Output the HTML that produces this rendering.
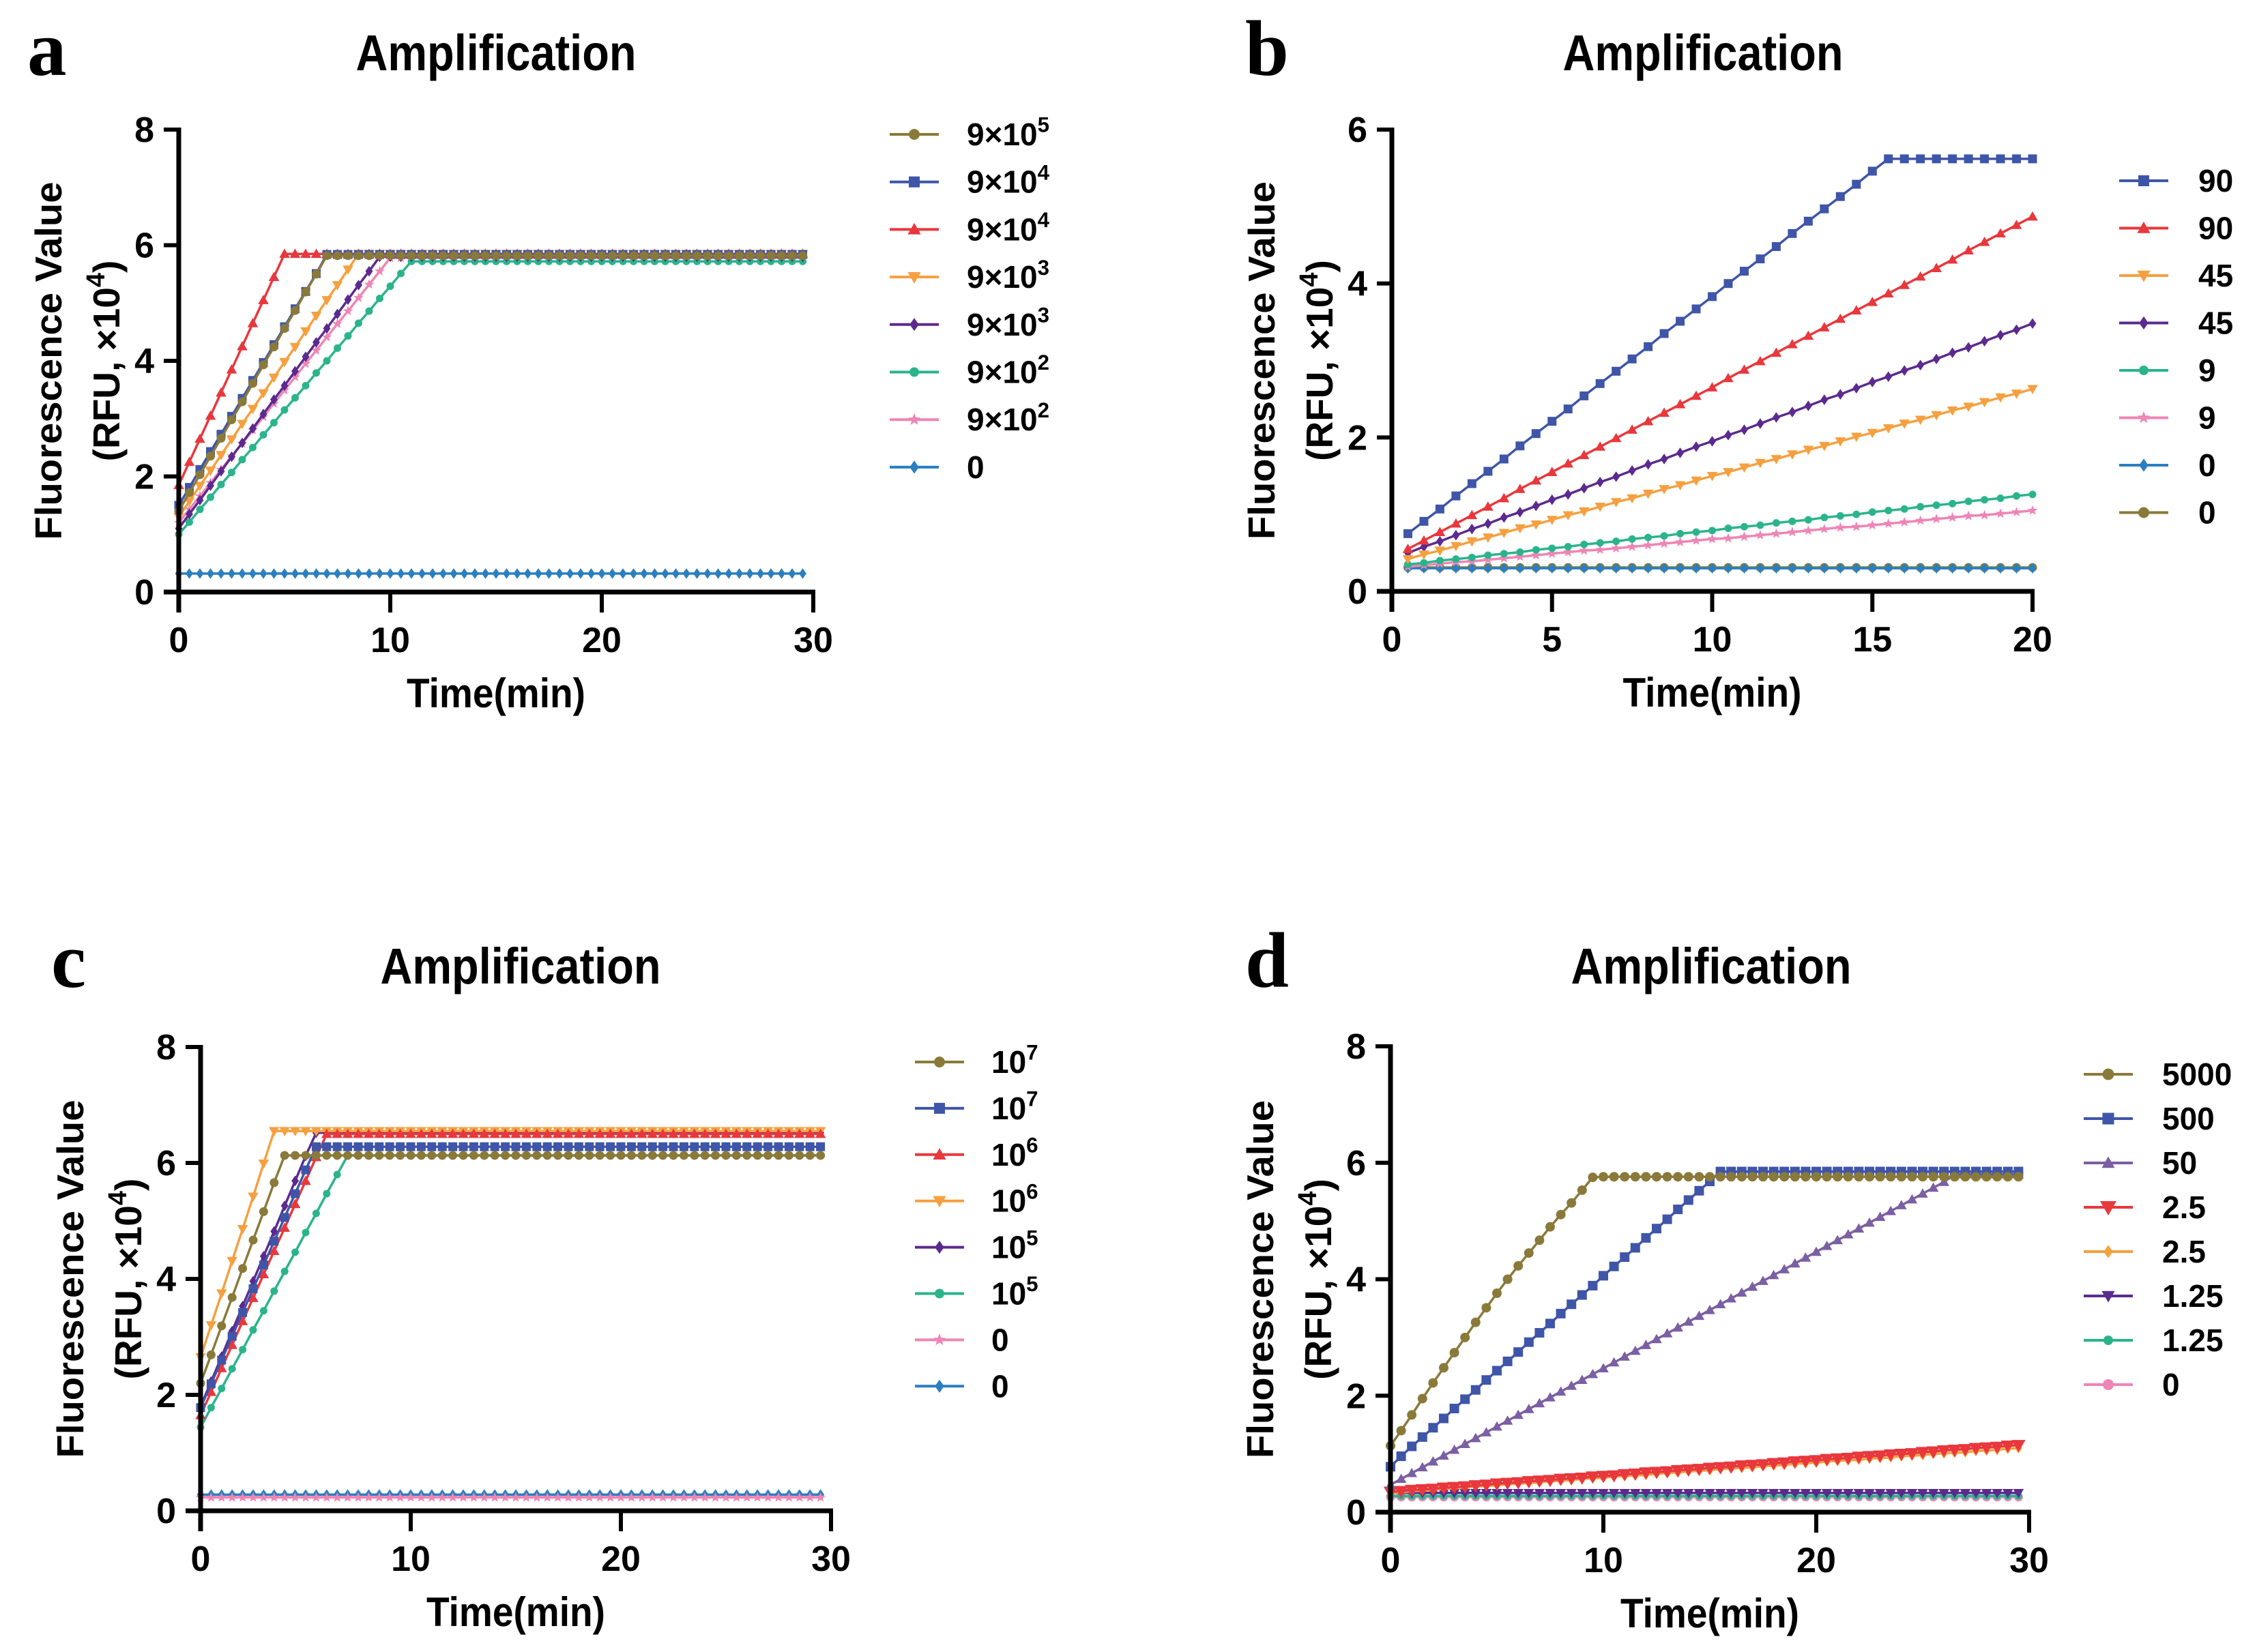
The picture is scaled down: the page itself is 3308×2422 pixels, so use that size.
<!DOCTYPE html>
<html><head><meta charset="utf-8"><style>
html,body{margin:0;padding:0;background:#fff;}
svg{display:block;}
text{font-family:"Liberation Sans",Arial,sans-serif;font-weight:bold;fill:#000;}
.n{font-family:"Liberation Sans Narrow","Liberation Sans",sans-serif;}
.s{font-family:"Liberation Serif",serif;}
</style></head><body>
<svg id="fig" width="3308" height="2422" viewBox="0 0 3308 2422" xmlns="http://www.w3.org/2000/svg">
<rect width="3308" height="2422" fill="#fff"/>
</svg>
<script>
// ---------- shared time categories ----------
const tA = [0,0.5,1,1.5,2,2.5,3,3.5,4,4.5,5,5.5,6,6.5,7,7.5,8,8.5,9,9.5,10,10.5,11,11.5,12,12.5,13,13.5,14,14.5,15,15.5,16,16.5,17,17.5,18,18.5,19,19.5,20,20.5,21,21.5,22,22.5,23,23.5,24,24.5,25,25.5,26,26.5,27,27.5,28,28.5,29,29.5];
const tB = [0.5,1,1.5,2,2.5,3,3.5,4,4.5,5,5.5,6,6.5,7,7.5,8,8.5,9,9.5,10,10.5,11,11.5,12,12.5,13,13.5,14,14.5,15,15.5,16,16.5,17,17.5,18,18.5,19,19.5,20];

// ---------- panel a values ----------
const aLabels = ["9×10|5","9×10|4","9×10|4","9×10|3","9×10|3","9×10|2","9×10|2","0"];
const a1 = [1.40,1.72,2.03,2.35,2.66,2.98,3.29,3.61,3.93,4.24,4.56,4.87,5.19,5.50,5.82,5.82,5.82,5.82,5.82,5.82,5.82,5.82,5.82,5.82,5.82,5.82,5.82,5.82,5.82,5.82,5.82,5.82,5.82,5.82,5.82,5.82,5.82,5.82,5.82,5.82,5.82,5.82,5.82,5.82,5.82,5.82,5.82,5.82,5.82,5.82,5.82,5.82,5.82,5.82,5.82,5.82,5.82,5.82,5.82,5.82];
const a2 = [1.50,1.81,2.12,2.43,2.73,3.04,3.35,3.66,3.97,4.28,4.59,4.90,5.20,5.51,5.84,5.84,5.84,5.84,5.84,5.84,5.84,5.84,5.84,5.84,5.84,5.84,5.84,5.84,5.84,5.84,5.84,5.84,5.84,5.84,5.84,5.84,5.84,5.84,5.84,5.84,5.84,5.84,5.84,5.84,5.84,5.84,5.84,5.84,5.84,5.84,5.84,5.84,5.84,5.84,5.84,5.84,5.84,5.84,5.84,5.84];
const a3 = [1.85,2.25,2.65,3.05,3.45,3.85,4.25,4.65,5.05,5.45,5.85,5.85,5.85,5.85,5.85,5.85,5.85,5.85,5.85,5.85,5.85,5.85,5.85,5.85,5.85,5.85,5.85,5.85,5.85,5.85,5.85,5.85,5.85,5.85,5.85,5.85,5.85,5.85,5.85,5.85,5.85,5.85,5.85,5.85,5.85,5.85,5.85,5.85,5.85,5.85,5.85,5.85,5.85,5.85,5.85,5.85,5.85,5.85,5.85,5.85];
const a4 = [1.30,1.57,1.84,2.10,2.37,2.64,2.91,3.17,3.44,3.71,3.98,4.24,4.51,4.78,5.05,5.31,5.58,5.85,5.85,5.85,5.85,5.85,5.85,5.85,5.85,5.85,5.85,5.85,5.85,5.85,5.85,5.85,5.85,5.85,5.85,5.85,5.85,5.85,5.85,5.85,5.85,5.85,5.85,5.85,5.85,5.85,5.85,5.85,5.85,5.85,5.85,5.85,5.85,5.85,5.85,5.85,5.85,5.85,5.85,5.85];
const a5 = [1.10,1.35,1.59,1.84,2.09,2.34,2.58,2.83,3.08,3.33,3.57,3.82,4.07,4.32,4.56,4.81,5.06,5.31,5.55,5.80,5.80,5.80,5.80,5.80,5.80,5.80,5.80,5.80,5.80,5.80,5.80,5.80,5.80,5.80,5.80,5.80,5.80,5.80,5.80,5.80,5.80,5.80,5.80,5.80,5.80,5.80,5.80,5.80,5.80,5.80,5.80,5.80,5.80,5.80,5.80,5.80,5.80,5.80,5.80,5.80];
const a6 = [1.00,1.21,1.43,1.64,1.86,2.07,2.29,2.50,2.72,2.93,3.15,3.36,3.57,3.79,4.00,4.22,4.43,4.65,4.86,5.08,5.29,5.51,5.72,5.72,5.72,5.72,5.72,5.72,5.72,5.72,5.72,5.72,5.72,5.72,5.72,5.72,5.72,5.72,5.72,5.72,5.72,5.72,5.72,5.72,5.72,5.72,5.72,5.72,5.72,5.72,5.72,5.72,5.72,5.72,5.72,5.72,5.72,5.72,5.72,5.72];
const a7 = [1.20,1.43,1.66,1.89,2.12,2.35,2.57,2.80,3.03,3.26,3.49,3.72,3.95,4.18,4.41,4.64,4.86,5.09,5.32,5.55,5.78,5.78,5.78,5.78,5.78,5.78,5.78,5.78,5.78,5.78,5.78,5.78,5.78,5.78,5.78,5.78,5.78,5.78,5.78,5.78,5.78,5.78,5.78,5.78,5.78,5.78,5.78,5.78,5.78,5.78,5.78,5.78,5.78,5.78,5.78,5.78,5.78,5.78,5.78,5.78];
const a8 = [0.32,0.32,0.32,0.32,0.32,0.32,0.32,0.32,0.32,0.32,0.32,0.32,0.32,0.32,0.32,0.32,0.32,0.32,0.32,0.32,0.32,0.32,0.32,0.32,0.32,0.32,0.32,0.32,0.32,0.32,0.32,0.32,0.32,0.32,0.32,0.32,0.32,0.32,0.32,0.32,0.32,0.32,0.32,0.32,0.32,0.32,0.32,0.32,0.32,0.32,0.32,0.32,0.32,0.32,0.32,0.32,0.32,0.32,0.32,0.32];
const aYTicks = [0,2,4,6,8];
const aXTicks = [0,10,20,30];

// ---------- panel b values ----------
const bLabels = ["90","90","45","45","9","9","0","0"];
const b1 = [0.75,0.91,1.07,1.24,1.40,1.56,1.72,1.89,2.05,2.21,2.37,2.54,2.70,2.86,3.02,3.18,3.35,3.51,3.67,3.83,4.00,4.16,4.32,4.48,4.65,4.81,4.97,5.13,5.29,5.46,5.62,5.62,5.62,5.62,5.62,5.62,5.62,5.62,5.62,5.62];
const b2 = [0.55,0.66,0.77,0.88,0.99,1.10,1.21,1.33,1.44,1.55,1.66,1.77,1.88,1.99,2.10,2.21,2.32,2.43,2.54,2.65,2.77,2.88,2.99,3.10,3.21,3.32,3.43,3.54,3.65,3.76,3.87,3.98,4.09,4.20,4.31,4.43,4.54,4.65,4.76,4.87];
const b3 = [0.42,0.48,0.53,0.59,0.65,0.70,0.76,0.82,0.87,0.93,0.99,1.04,1.10,1.16,1.21,1.27,1.33,1.38,1.44,1.50,1.55,1.61,1.67,1.72,1.78,1.84,1.89,1.95,2.01,2.06,2.12,2.18,2.23,2.29,2.35,2.40,2.46,2.52,2.57,2.63];
const b4 = [0.50,0.58,0.65,0.73,0.81,0.88,0.96,1.03,1.11,1.19,1.26,1.34,1.42,1.49,1.57,1.65,1.72,1.80,1.88,1.95,2.03,2.10,2.18,2.26,2.33,2.41,2.49,2.56,2.64,2.72,2.79,2.87,2.94,3.02,3.10,3.17,3.25,3.33,3.40,3.48];
const b5 = [0.35,0.37,0.40,0.42,0.44,0.47,0.49,0.51,0.54,0.56,0.58,0.61,0.63,0.65,0.68,0.70,0.72,0.75,0.77,0.79,0.82,0.84,0.86,0.89,0.91,0.93,0.96,0.98,1.00,1.03,1.05,1.07,1.10,1.12,1.14,1.17,1.19,1.21,1.24,1.26];
const b6 = [0.32,0.34,0.36,0.38,0.39,0.41,0.43,0.45,0.47,0.49,0.51,0.53,0.54,0.56,0.58,0.60,0.62,0.64,0.66,0.68,0.69,0.71,0.73,0.75,0.77,0.79,0.81,0.83,0.84,0.86,0.88,0.90,0.92,0.94,0.96,0.98,0.99,1.01,1.03,1.05];
const b7 = [0.30,0.30,0.30,0.30,0.30,0.30,0.30,0.30,0.30,0.30,0.30,0.30,0.30,0.30,0.30,0.30,0.30,0.30,0.30,0.30,0.30,0.30,0.30,0.30,0.30,0.30,0.30,0.30,0.30,0.30,0.30,0.30,0.30,0.30,0.30,0.30,0.30,0.30,0.30,0.30];
const b8 = [0.31,0.31,0.31,0.31,0.31,0.31,0.31,0.31,0.31,0.31,0.31,0.31,0.31,0.31,0.31,0.31,0.31,0.31,0.31,0.31,0.31,0.31,0.31,0.31,0.31,0.31,0.31,0.31,0.31,0.31,0.31,0.31,0.31,0.31,0.31,0.31,0.31,0.31,0.31,0.31];
const bYTicks = [0,2,4,6];
const bXTicks = [0,5,10,15,20];

// ---------- panel c values ----------
const cLabels = ["10|7","10|7","10|6","10|6","10|5","10|5","0","0"];
const c1 = [2.20,2.69,3.19,3.68,4.18,4.67,5.16,5.66,6.13,6.13,6.13,6.13,6.13,6.13,6.13,6.13,6.13,6.13,6.13,6.13,6.13,6.13,6.13,6.13,6.13,6.13,6.13,6.13,6.13,6.13,6.13,6.13,6.13,6.13,6.13,6.13,6.13,6.13,6.13,6.13,6.13,6.13,6.13,6.13,6.13,6.13,6.13,6.13,6.13,6.13,6.13,6.13,6.13,6.13,6.13,6.13,6.13,6.13,6.13,6.13];
const c2 = [1.78,2.19,2.60,3.01,3.42,3.83,4.24,4.65,5.06,5.47,5.88,6.28,6.28,6.28,6.28,6.28,6.28,6.28,6.28,6.28,6.28,6.28,6.28,6.28,6.28,6.28,6.28,6.28,6.28,6.28,6.28,6.28,6.28,6.28,6.28,6.28,6.28,6.28,6.28,6.28,6.28,6.28,6.28,6.28,6.28,6.28,6.28,6.28,6.28,6.28,6.28,6.28,6.28,6.28,6.28,6.28,6.28,6.28,6.28,6.28];
const c3 = [1.65,2.05,2.46,2.86,3.27,3.67,4.08,4.48,4.88,5.29,5.69,6.10,6.50,6.50,6.50,6.50,6.50,6.50,6.50,6.50,6.50,6.50,6.50,6.50,6.50,6.50,6.50,6.50,6.50,6.50,6.50,6.50,6.50,6.50,6.50,6.50,6.50,6.50,6.50,6.50,6.50,6.50,6.50,6.50,6.50,6.50,6.50,6.50,6.50,6.50,6.50,6.50,6.50,6.50,6.50,6.50,6.50,6.50,6.50,6.50];
const c4 = [2.65,3.20,3.75,4.31,4.86,5.42,5.99,6.55,6.55,6.55,6.55,6.55,6.55,6.55,6.55,6.55,6.55,6.55,6.55,6.55,6.55,6.55,6.55,6.55,6.55,6.55,6.55,6.55,6.55,6.55,6.55,6.55,6.55,6.55,6.55,6.55,6.55,6.55,6.55,6.55,6.55,6.55,6.55,6.55,6.55,6.55,6.55,6.55,6.55,6.55,6.55,6.55,6.55,6.55,6.55,6.55,6.55,6.55,6.55,6.55];
const c5 = [1.80,2.23,2.66,3.10,3.53,3.96,4.39,4.82,5.26,5.69,6.12,6.52,6.52,6.52,6.52,6.52,6.52,6.52,6.52,6.52,6.52,6.52,6.52,6.52,6.52,6.52,6.52,6.52,6.52,6.52,6.52,6.52,6.52,6.52,6.52,6.52,6.52,6.52,6.52,6.52,6.52,6.52,6.52,6.52,6.52,6.52,6.52,6.52,6.52,6.52,6.52,6.52,6.52,6.52,6.52,6.52,6.52,6.52,6.52,6.52];
const c6 = [1.44,1.78,2.11,2.45,2.78,3.12,3.45,3.79,4.13,4.46,4.80,5.13,5.47,5.80,6.13,6.13,6.13,6.13,6.13,6.13,6.13,6.13,6.13,6.13,6.13,6.13,6.13,6.13,6.13,6.13,6.13,6.13,6.13,6.13,6.13,6.13,6.13,6.13,6.13,6.13,6.13,6.13,6.13,6.13,6.13,6.13,6.13,6.13,6.13,6.13,6.13,6.13,6.13,6.13,6.13,6.13,6.13,6.13,6.13,6.13];
const c7 = [0.23,0.23,0.23,0.23,0.23,0.23,0.23,0.23,0.23,0.23,0.23,0.23,0.23,0.23,0.23,0.23,0.23,0.23,0.23,0.23,0.23,0.23,0.23,0.23,0.23,0.23,0.23,0.23,0.23,0.23,0.23,0.23,0.23,0.23,0.23,0.23,0.23,0.23,0.23,0.23,0.23,0.23,0.23,0.23,0.23,0.23,0.23,0.23,0.23,0.23,0.23,0.23,0.23,0.23,0.23,0.23,0.23,0.23,0.23,0.23];
const c8 = [0.28,0.28,0.28,0.28,0.28,0.28,0.28,0.28,0.28,0.28,0.28,0.28,0.28,0.28,0.28,0.28,0.28,0.28,0.28,0.28,0.28,0.28,0.28,0.28,0.28,0.28,0.28,0.28,0.28,0.28,0.28,0.28,0.28,0.28,0.28,0.28,0.28,0.28,0.28,0.28,0.28,0.28,0.28,0.28,0.28,0.28,0.28,0.28,0.28,0.28,0.28,0.28,0.28,0.28,0.28,0.28,0.28,0.28,0.28,0.28];
const cYTicks = [0,2,4,6,8];
const cXTicks = [0,10,20,30];

// ---------- panel d values ----------
const dLabels = ["5000","500","50","2.5","2.5","1.25","1.25","0"];
const d1 = [1.14,1.40,1.67,1.95,2.22,2.48,2.74,3.00,3.26,3.51,3.76,4.00,4.23,4.45,4.67,4.90,5.11,5.31,5.53,5.75,5.76,5.76,5.76,5.76,5.76,5.76,5.76,5.76,5.76,5.76,5.76,5.76,5.76,5.76,5.76,5.76,5.76,5.76,5.76,5.76,5.76,5.76,5.76,5.76,5.76,5.76,5.76,5.76,5.76,5.76,5.76,5.76,5.76,5.76,5.76,5.76,5.76,5.76,5.76,5.76];
const d2 = [0.78,0.96,1.13,1.29,1.45,1.61,1.78,1.94,2.10,2.27,2.43,2.59,2.75,2.92,3.08,3.24,3.41,3.57,3.73,3.89,4.06,4.22,4.38,4.54,4.71,4.87,5.03,5.20,5.36,5.52,5.68,5.85,5.85,5.85,5.85,5.85,5.85,5.85,5.85,5.85,5.85,5.85,5.85,5.85,5.85,5.85,5.85,5.85,5.85,5.85,5.85,5.85,5.85,5.85,5.85,5.85,5.85,5.85,5.85,5.85];
const d3 = [0.47,0.57,0.67,0.77,0.87,0.97,1.07,1.17,1.27,1.37,1.47,1.57,1.67,1.77,1.87,1.97,2.07,2.17,2.27,2.37,2.47,2.57,2.67,2.77,2.87,2.97,3.07,3.17,3.27,3.37,3.47,3.57,3.67,3.77,3.87,3.97,4.07,4.17,4.27,4.37,4.47,4.57,4.67,4.77,4.87,4.97,5.07,5.17,5.27,5.37,5.47,5.57,5.67,5.80,5.80,5.80,5.80,5.80,5.80,5.80];
const d4 = [0.35,0.36,0.38,0.39,0.40,0.42,0.43,0.44,0.46,0.47,0.49,0.50,0.51,0.53,0.54,0.55,0.57,0.58,0.59,0.61,0.62,0.63,0.65,0.66,0.68,0.69,0.70,0.72,0.73,0.74,0.76,0.77,0.78,0.80,0.81,0.82,0.84,0.85,0.87,0.88,0.89,0.91,0.92,0.93,0.95,0.96,0.97,0.99,1.00,1.01,1.03,1.04,1.06,1.07,1.08,1.10,1.11,1.12,1.14,1.15];
const d5 = [0.33,0.34,0.36,0.37,0.38,0.40,0.41,0.42,0.44,0.45,0.46,0.48,0.49,0.50,0.51,0.53,0.54,0.55,0.57,0.58,0.59,0.61,0.62,0.63,0.64,0.66,0.67,0.68,0.70,0.71,0.72,0.74,0.75,0.76,0.77,0.79,0.80,0.81,0.83,0.84,0.85,0.87,0.88,0.89,0.90,0.92,0.93,0.94,0.96,0.97,0.98,1.00,1.01,1.02,1.03,1.05,1.06,1.07,1.09,1.10];
const d6 = [0.33,0.33,0.33,0.33,0.33,0.33,0.33,0.33,0.33,0.33,0.33,0.33,0.33,0.33,0.33,0.33,0.33,0.33,0.33,0.33,0.33,0.33,0.33,0.33,0.33,0.33,0.33,0.33,0.33,0.33,0.33,0.33,0.33,0.33,0.33,0.33,0.33,0.33,0.33,0.33,0.33,0.33,0.33,0.33,0.33,0.33,0.33,0.33,0.33,0.33,0.33,0.33,0.33,0.33,0.33,0.33,0.33,0.33,0.33,0.33];
const d7 = [0.28,0.28,0.28,0.28,0.28,0.28,0.28,0.28,0.28,0.28,0.28,0.28,0.28,0.28,0.28,0.28,0.28,0.28,0.28,0.28,0.28,0.28,0.28,0.28,0.28,0.28,0.28,0.28,0.28,0.28,0.28,0.28,0.28,0.28,0.28,0.28,0.28,0.28,0.28,0.28,0.28,0.28,0.28,0.28,0.28,0.28,0.28,0.28,0.28,0.28,0.28,0.28,0.28,0.28,0.28,0.28,0.28,0.28,0.28,0.28];
const d8 = [0.26,0.26,0.26,0.26,0.26,0.26,0.26,0.26,0.26,0.26,0.26,0.26,0.26,0.26,0.26,0.26,0.26,0.26,0.26,0.26,0.26,0.26,0.26,0.26,0.26,0.26,0.26,0.26,0.26,0.26,0.26,0.26,0.26,0.26,0.26,0.26,0.26,0.26,0.26,0.26,0.26,0.26,0.26,0.26,0.26,0.26,0.26,0.26,0.26,0.26,0.26,0.26,0.26,0.26,0.26,0.26,0.26,0.26,0.26,0.26];
const dYTicks = [0,2,4,6,8];
const dXTicks = [0,10,20,30];

// ---------- styles (not data) ----------
const OL="#8A7A3A",BL="#3F55A8",RD="#E8383D",OR="#F5A040",PU="#5B2A8E",TE="#2BB48C",PK="#EE85B5",B0="#2A7FC0",GP="#7B5FA3";

const NS="http://www.w3.org/2000/svg";
const svg=document.getElementById('fig');
function el(tag,attrs,parent){const e=document.createElementNS(NS,tag);for(const k in attrs)e.setAttribute(k,attrs[k]);(parent||svg).appendChild(e);return e;}

function marker(g,type,x,y,s,c){
  let m;
  if(type==='circle'){m=el('circle',{cx:x,cy:y,r:s*0.5,fill:c},g);}
  else if(type==='square'){m=el('rect',{x:x-s/2,y:y-s/2,width:s,height:s,fill:c},g);}
  else if(type==='tri'){m=el('polygon',{points:`${x},${y-s*0.6} ${x-s*0.6},${y+s*0.45} ${x+s*0.6},${y+s*0.45}`,fill:c},g);}
  else if(type==='dtri'){m=el('polygon',{points:`${x},${y+s*0.6} ${x-s*0.6},${y-s*0.45} ${x+s*0.6},${y-s*0.45}`,fill:c},g);}
  else if(type==='diamond'){m=el('polygon',{points:`${x},${y-s*0.6} ${x+s*0.42},${y} ${x},${y+s*0.6} ${x-s*0.42},${y}`,fill:c},g);}
  else if(type==='star'){let p=[];for(let i=0;i<10;i++){const r=i%2?s*0.25:s*0.6;const a=-Math.PI/2+i*Math.PI/5;p.push((x+r*Math.cos(a)).toFixed(1)+','+(y+r*Math.sin(a)).toFixed(1));}m=el('polygon',{points:p.join(' '),fill:c},g);}
  return m;
}

function labelText(t,x,y,size,label){
  const parts=label.split('|');
  const tx=el('text',{x:x,y:y,'font-size':size},t);
  tx.appendChild(document.createTextNode(parts[0]));
  if(parts[1]){const sp=el('tspan',{dy:-size*0.42,'font-size':size*0.68},tx);sp.textContent=parts[1];}
  return tx;
}

function panel(cfg){
  const g=el('g',{});
  
  
  const X=v=>cfg.x0+(v-cfg.xmin)/(cfg.xmax-cfg.xmin)*(cfg.x1-cfg.x0);
  const Y=v=>cfg.y0-(v-0)/(cfg.ymax)*(cfg.y0-cfg.y1);
  // panel letter
  const lt=el('text',{x:cfg.lx,y:cfg.ly,'font-size':115,class:'s'},g);
  
  
  lt.textContent=cfg.id;
  // title
  const tt=el('text',{x:cfg.tx,y:cfg.ty,'font-size':74,'text-anchor':'middle',class:'n',textLength:411,lengthAdjust:'spacingAndGlyphs'},g);
  
  
  tt.textContent='Amplification';
  // series (draw reverse so first legend on top)
  for(let i=cfg.series.length-1;i>=0;i--){
    const s=cfg.series[i];
    const sg=el('g',{},g);
    
    
    const pts=s.vals.map((v,j)=>X(cfg.t[j]).toFixed(1)+','+Y(v).toFixed(1)).join(' ');
    const pl=el('polyline',{points:pts,fill:'none',stroke:s.c,'stroke-width':3.5},sg);
    
    
    s.vals.forEach((v,j)=>{
      const m=marker(sg,s.m,X(cfg.t[j]),Y(v),s.sz||13,s.c);
      
      
    });
    // legend entry
    const ly=cfg.legY+i*cfg.legDy;
    const lg=el('g',{},g);
    
    
    el('line',{x1:cfg.legX,y1:ly,x2:cfg.legX+72,y2:ly,stroke:s.c,'stroke-width':4},lg);
    marker(lg,s.m,cfg.legX+36,ly,(s.sz||13)+3,s.c);
    labelText(lg,cfg.legTx,ly+16,46,cfg.labels[i]);
  }
  // axes
  const ax=el('g',{},g);
  
  
  el('line',{x1:cfg.x0,y1:cfg.y1-3,x2:cfg.x0,y2:cfg.y0+30,stroke:'#000','stroke-width':7},ax);
  el('line',{x1:cfg.x0-22,y1:cfg.y0,x2:cfg.x1+3,y2:cfg.y0,stroke:'#000','stroke-width':7},ax);
  cfg.yt.forEach(v=>{
    el('line',{x1:cfg.x0-22,y1:Y(v),x2:cfg.x0,y2:Y(v),stroke:'#000','stroke-width':6},ax);
    const t=el('text',{x:cfg.x0-36,y:Y(v)+18,'font-size':52,'text-anchor':'end',class:'n'},ax);
    
    
    t.textContent=v;
  });
  cfg.xt.forEach(v=>{
    el('line',{x1:X(v),y1:cfg.y0,x2:X(v),y2:cfg.y0+30,stroke:'#000','stroke-width':6},ax);
    const t=el('text',{x:X(v),y:cfg.y0+88,'font-size':52,'text-anchor':'middle',class:'n'},ax);
    
    
    t.textContent=v;
  });
  const xt=el('text',{x:(cfg.x0+cfg.x1)/2,y:cfg.y0+169,'font-size':60,'text-anchor':'middle',class:'n',textLength:262,lengthAdjust:'spacingAndGlyphs'},g);
  
  
  xt.textContent='Time(min)';
  const cy=(cfg.y0+cfg.y1)/2;
  const y1=el('text',{x:0,y:0,'font-size':55,'text-anchor':'middle',transform:`translate(${cfg.x0-172},${cy}) rotate(-90)`,textLength:525,lengthAdjust:'spacingAndGlyphs'},g);
  
  
  y1.textContent='Fluorescence Value';
  const y2=el('text',{x:0,y:0,'font-size':55,'text-anchor':'middle',transform:`translate(${cfg.x0-87},${cy}) rotate(-90)`},g);
  
  
  y2.appendChild(document.createTextNode('(RFU, ×10'));
  const sp=el('tspan',{dy:-22,'font-size':38},y2);sp.textContent='4';
  const sp2=el('tspan',{dy:22},y2);sp2.textContent=')';
}

panel({id:'a',t:tA,xmin:0,xmax:30,ymax:8,x0:262,x1:1192,y0:868,y1:190,yt:aYTicks,xt:aXTicks,
  lx:40,ly:110,tx:727,ty:103,legX:1304,legTx:1417,legY:197,legDy:69.7,labels:aLabels,
  series:[{vals:a1,c:OL,m:'circle'},{vals:a2,c:BL,m:'square'},{vals:a3,c:RD,m:'tri'},{vals:a4,c:OR,m:'dtri'},
          {vals:a5,c:PU,m:'diamond'},{vals:a6,c:TE,m:'circle',sz:11},{vals:a7,c:PK,m:'star'},{vals:a8,c:B0,m:'diamond'}]});
panel({id:'b',t:tB,xmin:0,xmax:20,ymax:6,x0:2040,x1:2979,y0:867,y1:190,yt:bYTicks,xt:bXTicks,
  lx:1825,ly:110,tx:2496,ty:103,legX:3106,legTx:3222,legY:265,legDy:69.5,labels:bLabels,
  series:[{vals:b1,c:BL,m:'square'},{vals:b2,c:RD,m:'tri'},{vals:b3,c:OR,m:'dtri'},{vals:b4,c:PU,m:'diamond'},
          {vals:b5,c:TE,m:'circle',sz:11},{vals:b6,c:PK,m:'star'},{vals:b7,c:B0,m:'diamond'},{vals:b8,c:OL,m:'circle'}]});
panel({id:'c',t:tA,xmin:0,xmax:30,ymax:8,x0:294,x1:1218,y0:2215,y1:1535,yt:cYTicks,xt:cXTicks,
  lx:75,ly:1447,tx:763,ty:1442,legX:1341,legTx:1453,legY:1557,legDy:67.9,labels:cLabels,
  series:[{vals:c1,c:OL,m:'circle'},{vals:c2,c:BL,m:'square'},{vals:c3,c:RD,m:'tri'},{vals:c4,c:OR,m:'dtri'},
          {vals:c5,c:PU,m:'diamond'},{vals:c6,c:TE,m:'circle',sz:11},{vals:c7,c:PK,m:'star'},{vals:c8,c:B0,m:'diamond'}]});
panel({id:'d',t:tA,xmin:0,xmax:30,ymax:8,x0:2038,x1:2974,y0:2217,y1:1534,yt:dYTicks,xt:dXTicks,
  lx:1825,ly:1447,tx:2508,ty:1442,legX:3054,legTx:3169,legY:1575,legDy:65,labels:dLabels,
  series:[{vals:d1,c:OL,m:'circle',sz:14},{vals:d2,c:BL,m:'square',sz:14},{vals:d3,c:GP,m:'tri'},{vals:d4,c:RD,m:'dtri',sz:17},
          {vals:d5,c:OR,m:'diamond'},{vals:d6,c:PU,m:'dtri'},{vals:d7,c:TE,m:'circle',sz:11},{vals:d8,c:PK,m:'circle'}]});
</script>
</body></html>
